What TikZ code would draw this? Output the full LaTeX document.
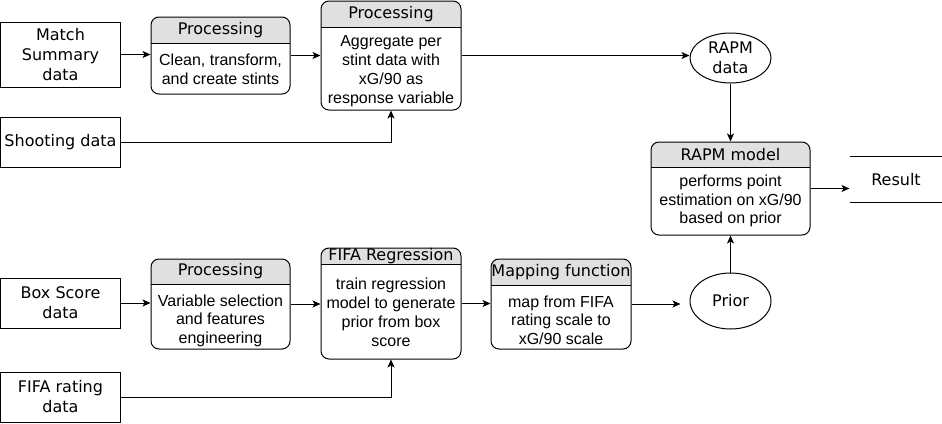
\documentclass[tikz,border=0pt]{standalone}
\usepackage{fontspec}
\setmainfont{Liberation Sans}
\newfontfamily\vfont{DejaVu Sans}
\usetikzlibrary{shapes.geometric,arrows.meta}
\definecolor{hdrgray}{HTML}{E0E0E0}

\begin{document}
\begin{tikzpicture}[x=1pt, y=-1pt, line width=1pt,
	data/.style={draw, rectangle, align=center, minimum width=120pt, inner sep=0pt, font=\vfont\fontsize{16}{20}\selectfont},
	box/.style={draw, rectangle, rounded corners=8pt, inner sep=0pt, path picture={
		\fill[hdrgray, sharp corners] (path picture bounding box.north west) rectangle ([yshift=-#1pt]path picture bounding box.north east);
		\draw[sharp corners] ([yshift=-#1pt]path picture bounding box.north west) -- ([yshift=-#1pt]path picture bounding box.north east);}},
	hd/.style={inner sep=0pt, font=\vfont\fontsize{16}{18}\selectfont},
	bd/.style={inner sep=0pt, align=center, font=\fontsize{16}{18.5}\selectfont},
	oval/.style={draw, ellipse, inner sep=0pt, minimum width=81pt, align=center, font=\vfont\fontsize{16}{20}\selectfont},
	arr/.style={-{Stealth[length=8pt, width=7pt, inset=2pt]}}]
	\useasboundingbox (0,0) rectangle (942,423);
	
	% input data
	\node[data, minimum height=65pt] (match) at (60.5,54.5) {Match\\Summary\\data};
	\node[data, minimum height=50pt] (shoot) at (60.5,142) {Shooting data};
	\node[data, minimum height=50pt] (boxsc) at (60.5,303) {Box Score\\data};
	\node[data, minimum height=50pt] (rating) at (60.5,397) {FIFA rating\\data};
	
	% upper branch
	\node[box=26, minimum width=139pt, minimum height=77pt] (proc1) at (220.5,55.5) {};
	\node[hd] (proc1h) at (220.5,30) {Processing};
	\node[bd] (proc1b) at (220.5,69.5) {Clean, transform,\\and create stints};
	
	\node[box=26, minimum width=140pt, minimum height=109pt] (proc2) at (391,55.5) {};
	\node[hd] (proc2h) at (391,14) {Processing};
	\node[bd, font=\fontsize{16}{19}\selectfont] (proc2b) at (391,71.5) {Aggregate per\\stint data with\\xG/90 as\\response variable};
	
	\node[oval, minimum height=50pt] (rapmd) at (730.5,58) {RAPM\\data};
	
	\node[box=25, minimum width=159pt, minimum height=93pt] (model) at (730.5,188.5) {};
	\node[hd] (modelh) at (730.5,154.5) {RAPM model};
	\node[bd] (modelb) at (730.5,201) {performs point\\estimation on xG/90\\based on prior};
	
	\node[font=\vfont\fontsize{16}{18}\selectfont, minimum width=92pt, minimum height=45pt, inner sep=0pt] (result) at (896,179.5) {Result};
	\draw (result.north west) -- (result.north east);
	\draw (result.south west) -- (result.south east);
	
	% lower branch
	\node[box=25, minimum width=139pt, minimum height=90pt] (proc3) at (220.5,304) {};
	\node[hd] (proc3h) at (220.5,271.5) {Processing};
	\node[bd] (proc3b) at (220.5,320.5) {Variable selection\\and features\\engineering};
	
	\node[box=16, minimum width=140pt, minimum height=111pt] (fifareg) at (391,303.5) {};
	\node[hd] (fifaregh) at (391,256) {FIFA Regression};
	\node[bd, font=\fontsize{16}{19}\selectfont] (fifaregb) at (391,312) {train regression\\model to generate\\prior from box\\score};
	
	\node[box=26, minimum width=140pt, minimum height=90pt] (mapf) at (561,304) {};
	\node[hd] (mapfh) at (561,272) {Mapping function};
	\node[bd] (mapfb) at (561,320) {map from FIFA\\rating scale to\\xG/90 scale};
	
	\node[oval, minimum height=56pt] (prior) at (730.5,301) {Prior};
	
	% connectors
	\draw[arr] (match.east) -- (match.east -| proc1.west);
	\draw[arr] (proc1.east) -- (proc1.east -| proc2.west);
	\draw[arr] (shoot.east) -| (proc2.south);
	\draw[arr] (proc2.east) -- (proc2.east -| rapmd.west);
	\draw[arr] (rapmd.south) -- (model.north);
	\draw[arr] (model.east) -- (model.east -| result.west);
	
	\draw[arr] (boxsc.east) -- (boxsc.east -| proc3.west);
	\draw[arr] (proc3.east) -- (proc3.east -| fifareg.west);
	\draw[arr] (rating.east) -| (fifareg.south);
	\draw[arr] (fifareg.east) -- (fifareg.east -| mapf.west);
	\draw[arr, shorten >=9pt] (mapf.east) -- (mapf.east -| prior.west);
	\draw[arr] (prior.north) -- (model.south);
\end{tikzpicture}
\end{document}
